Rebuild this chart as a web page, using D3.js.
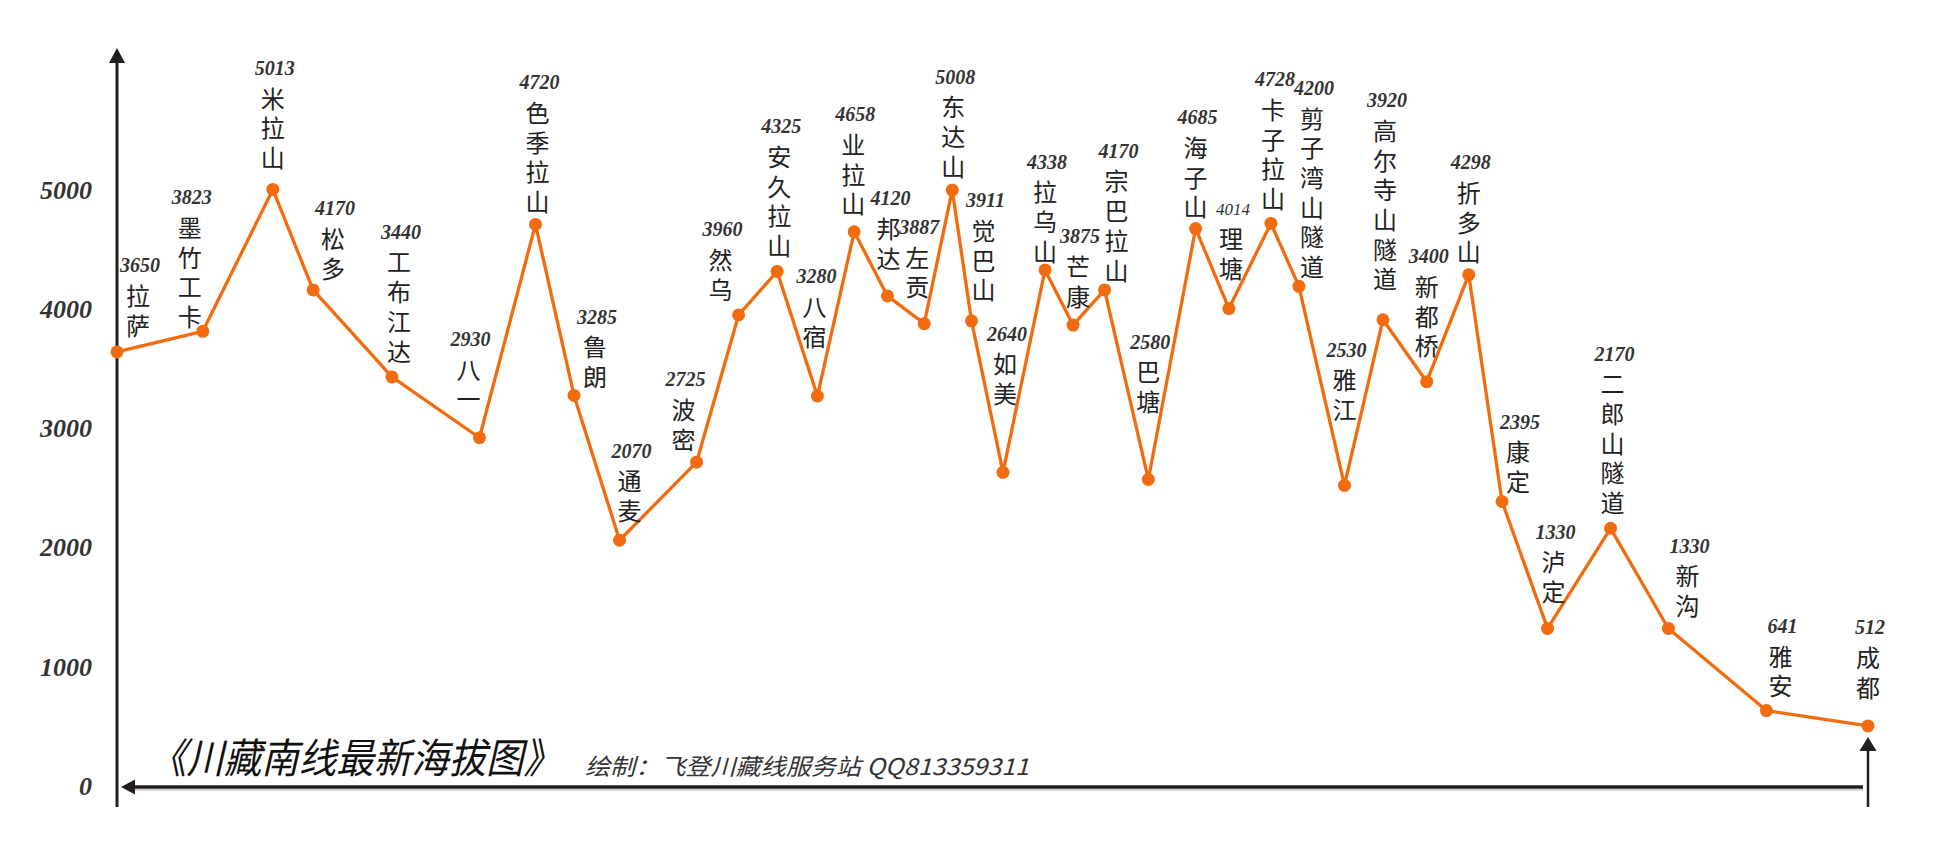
<!DOCTYPE html>
<html>
<head>
<meta charset="utf-8">
<script src="https://cdn.jsdelivr.net/npm/d3@7"></script>
<style>
  body { margin: 0; background: #fff; }
  svg { display: block; }
</style>
</head>
<body>
<div id="chart"></div>
<script>
// Stations le long de la route (de Lhassa à Chengdu)
const stops = ["拉萨", "墨竹工卡", "米拉山", "松多", "工布江达", "八一", "色季拉山", "鲁朗", "通麦", "波密",
  "然乌", "安久拉山", "八宿", "业拉山", "邦达", "左贡", "东达山", "觉巴山", "如美", "拉乌山",
  "芒康", "宗巴拉山", "巴塘", "海子山", "理塘", "卡子拉山", "剪子湾山隧道", "雅江", "高尔寺山隧道", "新都桥",
  "折多山", "康定", "泸定", "二郎山隧道", "新沟", "雅安", "成都"];

// Altitudes (m)
const altitudes = [3650, 3823, 5013, 4170, 3440, 2930, 4720, 3285, 2070, 2725,
  3960, 4325, 3280, 4658, 4120, 3887, 5008, 3911, 2640, 4338,
  3875, 4170, 2580, 4685, 4014, 4728, 4200, 2530, 3920, 3400,
  4298, 2395, 1330, 2170, 1330, 641, 512];

// Position relative le long du parcours (0 = 拉萨, 100 = 成都)
const routePos = [0, 4.9, 8.9, 11.2, 15.7, 20.7, 23.9, 26.1, 28.7, 33.1,
  35.5, 37.7, 40.0, 42.1, 44.0, 46.1, 47.7, 48.8, 50.6, 53.0,
  54.6, 56.4, 58.9, 61.6, 63.5, 65.9, 67.5, 70.1, 72.3, 74.8,
  77.2, 79.1, 81.7, 85.3, 88.6, 94.2, 100];

const yTicks = [0, 1000, 2000, 3000, 4000, 5000];

const title = "《川藏南线最新海拔图》";
const credit = "绘制：飞登川藏线服务站  QQ813359311";

// Décalage des étiquettes par rapport au point
const labelDx = [21, -13, 0, 20, 7, -11, 2, 21, 10, -13,
  -18, 2, -3, -1, 1, -7, 1, 12, 2, 0,
  5, 12, 0, 0, 2, 2, 13, 0, 2, 0,
  0, 16, 6, 2, 19, 14, 0];
const labelDy = [-26, -14, -31, -21, -25, -38, -22, -18, -29, -22,
  -25, -25, -59, -27, -37, -36, -23, -30, -78, -18,
  -28, -19, -77, -21, -39, -24, -19, -75, -40, -35,
  -22, -19, -36, -25, -22, -24, -38];

const width = 1940, height = 865;
const orange = "#f26b0f";
const ink = "#231f20";

const svg = d3.select("#chart").append("svg")
  .attr("width", width)
  .attr("height", height);

const x = d3.scaleLinear().domain([0, 100]).range([117, 1868]);
const y = d3.scaleLinear().domain([0, 5000]).range([787, 191]);

// Axe vertical avec flèche
svg.append("line")
  .attr("x1", x(0)).attr("x2", x(0))
  .attr("y1", 60).attr("y2", 807)
  .attr("stroke", ink).attr("stroke-width", 3);
svg.append("path")
  .attr("d", `M${x(0)},48 L${x(0) - 8},63 L${x(0) + 8},63 Z`)
  .attr("fill", ink);

// Axe horizontal, flèche vers la gauche
svg.append("line")
  .attr("x1", 130).attr("x2", x(100) - 5)
  .attr("y1", y(0) + 3).attr("y2", y(0) + 3)
  .attr("stroke", "#c8c8c8").attr("stroke-width", 1.5);
svg.append("line")
  .attr("x1", 130).attr("x2", x(100) - 5)
  .attr("y1", y(0)).attr("y2", y(0))
  .attr("stroke", ink).attr("stroke-width", 3.4);
svg.append("path")
  .attr("d", `M121,${y(0)} L135,${y(0) - 7.5} L135,${y(0) + 7.5} Z`)
  .attr("fill", ink);

// Flèche verticale à l'arrivée
svg.append("line")
  .attr("x1", x(100)).attr("x2", x(100))
  .attr("y1", 748).attr("y2", 807)
  .attr("stroke", ink).attr("stroke-width", 2.5);
svg.append("path")
  .attr("d", `M${x(100)},737 L${x(100) - 8.5},751 L${x(100) + 8.5},751 Z`)
  .attr("fill", ink);

// Graduations de l'axe Y (étiquettes seules)
const yAxis = d3.axisLeft(y).tickValues(yTicks).tickSize(0).tickPadding(25).tickFormat(d3.format("d"));
const gy = svg.append("g").attr("transform", `translate(${x(0)},0)`).call(yAxis);
gy.select(".domain").remove();
gy.selectAll("text")
  .attr("dy", "0.32em")
  .attr("y", -1)
  .attr("font-family", "'Liberation Serif', serif")
  .attr("font-style", "italic")
  .attr("font-weight", "bold")
  .attr("font-size", "26px")
  .attr("fill", "#333");

const data = stops.map((name, i) => ({
  name, alt: altitudes[i], pos: routePos[i], dx: labelDx[i], dy: labelDy[i]
}));

// Ligne du profil
const line = d3.line().x(d => x(d.pos)).y(d => y(d.alt));
svg.append("path")
  .datum(data)
  .attr("d", line)
  .attr("fill", "none")
  .attr("stroke", orange)
  .attr("stroke-width", 3.3)
  .attr("stroke-linejoin", "round");

svg.selectAll("circle.stop")
  .data(data)
  .join("circle")
  .attr("class", "stop")
  .attr("cx", d => x(d.pos))
  .attr("cy", d => y(d.alt))
  .attr("r", 6.5)
  .attr("fill", orange);

// Étiquettes : altitude + nom vertical, un caractère par ligne
const step = 29.7;
const labels = svg.selectAll("g.label")
  .data(data)
  .join("g")
  .attr("class", "label")
  .attr("transform", d => `translate(${x(d.pos) + d.dx},${y(d.alt) + d.dy})`);

labels.each(function (d) {
  const g = d3.select(this);
  const chars = Array.from(d.name);
  const n = chars.length;
  g.selectAll("text.ch")
    .data(chars)
    .join("text")
    .attr("class", "ch")
    .attr("x", 0)
    .attr("y", (c, i) => -(n - 1 - i) * step)
    .attr("dy", "0.36em")
    .attr("text-anchor", "middle")
    .attr("font-family", "'Noto Sans CJK SC', sans-serif")
    .attr("font-size", "24px")
    .attr("fill", "#222")
    .text(c => c);
  g.append("text")
    .attr("x", 2)
    .attr("y", -(n - 1) * step - 31)
    .attr("dy", "0.35em")
    .attr("text-anchor", "middle")
    .attr("font-family", "'Liberation Serif', serif")
    .attr("font-style", "italic")
    .attr("font-weight", d.name === "理塘" ? "normal" : "bold")
    .attr("font-size", d.name === "理塘" ? "17px" : "20px")
    .attr("fill", "#333")
    .text(d.alt);
});

// Titre et crédit
svg.append("text")
  .attr("x", 149)
  .attr("y", 758)
  .attr("dy", "0.36em")
  .attr("textLength", 412)
  .attr("lengthAdjust", "spacingAndGlyphs")
  .attr("font-family", "'Noto Sans CJK SC', sans-serif")
  .attr("font-style", "italic")
  .attr("font-size", "41px")
  .attr("fill", "#111")
  .text(title);

svg.append("text")
  .attr("x", 585)
  .attr("y", 767)
  .attr("dy", "0.36em")
  .attr("textLength", 444)
  .attr("lengthAdjust", "spacingAndGlyphs")
  .attr("font-family", "'Noto Sans CJK SC', sans-serif")
  .attr("font-style", "italic")
  .attr("font-size", "23px")
  .attr("fill", "#333")
  .text(credit);
</script>
</body>
</html>
